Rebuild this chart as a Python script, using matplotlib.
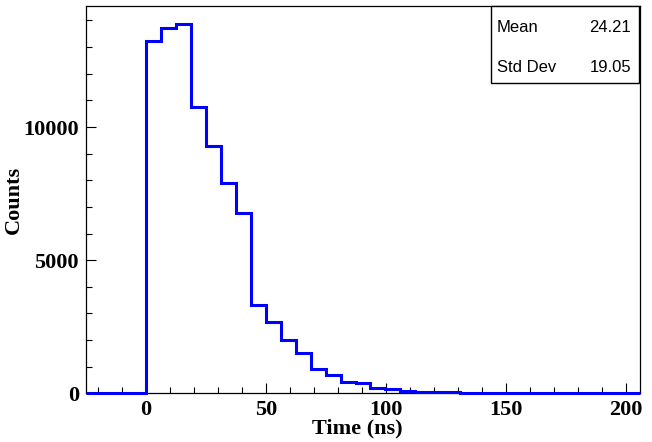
import numpy as np
import matplotlib
matplotlib.use("Agg")
import matplotlib.pyplot as plt
from matplotlib.ticker import MultipleLocator, FixedLocator

# histogram: 37 bins from -25 to 206 ns
x_low, x_high, n_bins = -25.0, 206.0, 37
counts = [
    0, 0, 0, 0,
    13218, 13729, 13868, 10740, 9298, 7897, 6771,
    3310, 2666, 1990, 1513, 901, 676, 413, 375, 188, 150,
    98, 40, 36, 33, 30, 28, 26, 24, 22, 20, 19, 18, 17, 16,
    0, 0,
]
stat_names = ["Mean", "Std Dev"]
stat_values = ["24.21", "19.05"]
x_major = [0, 50, 100, 150, 200]
y_major = [0, 5000, 10000]

SERIF = "Liberation Serif"
SANS = "Liberation Sans"

edges = np.linspace(x_low, x_high, n_bins + 1)

fig = plt.figure(figsize=(6.52, 4.42), dpi=100)
ax = fig.add_axes([86 / 652, 1 - 393.3 / 442, (640 - 86) / 652, (393.3 - 6) / 442])

ax.stairs(counts, edges, color="#0000ff", linewidth=2.2, baseline=None,
          clip_on=False, zorder=3)

ax.set_xlim(x_low, x_high)
ax.set_ylim(0, 14544)

ax.xaxis.set_major_locator(FixedLocator(x_major))
ax.xaxis.set_minor_locator(FixedLocator([v for v in range(-20, 210, 10) if v % 50]))
ax.yaxis.set_major_locator(FixedLocator(y_major))
ax.yaxis.set_minor_locator(MultipleLocator(1000))

ax.tick_params(which="both", direction="in", top=False, right=False,
               width=0.8, color="black")
ax.tick_params(which="major", length=7.5)
ax.tick_params(which="minor", length=4)
ax.tick_params(axis="x", which="major", pad=5)
ax.tick_params(axis="y", which="major", pad=5)

for lab in ax.get_xticklabels() + ax.get_yticklabels():
    lab.set_fontfamily(SERIF)
    lab.set_fontweight("bold")
    lab.set_fontsize(16)

for sp in ax.spines.values():
    sp.set_linewidth(0.9)

ax.set_xlabel("Time (ns)", fontfamily=SERIF, fontweight="bold", fontsize=16)
ax.xaxis.set_label_coords(0.49, -0.065)
ax.set_ylabel("Counts", fontfamily=SERIF, fontweight="bold", fontsize=16)
ax.yaxis.set_label_coords(-0.113, 0.5)

# stats box
bx0, bx1 = 491 / 652, 639 / 652
by0, by1 = 1 - 83 / 442, 1 - 6 / 442
fig.patches.append(plt.Rectangle((bx0, by0), bx1 - bx0, by1 - by0,
                                 transform=fig.transFigure, facecolor="white",
                                 edgecolor="black", linewidth=1.0, zorder=5))
for i, (name, val) in enumerate(zip(stat_names, stat_values)):
    yy = 1 - (28 + 39.5 * i) / 442
    fig.text(497 / 652, yy, name, fontfamily=SANS, fontsize=12,
             ha="left", va="center", zorder=6)
    fig.text(631 / 652, yy, val, fontfamily=SANS, fontsize=12,
             ha="right", va="center", zorder=6)

fig.savefig("out.png", dpi=100)
